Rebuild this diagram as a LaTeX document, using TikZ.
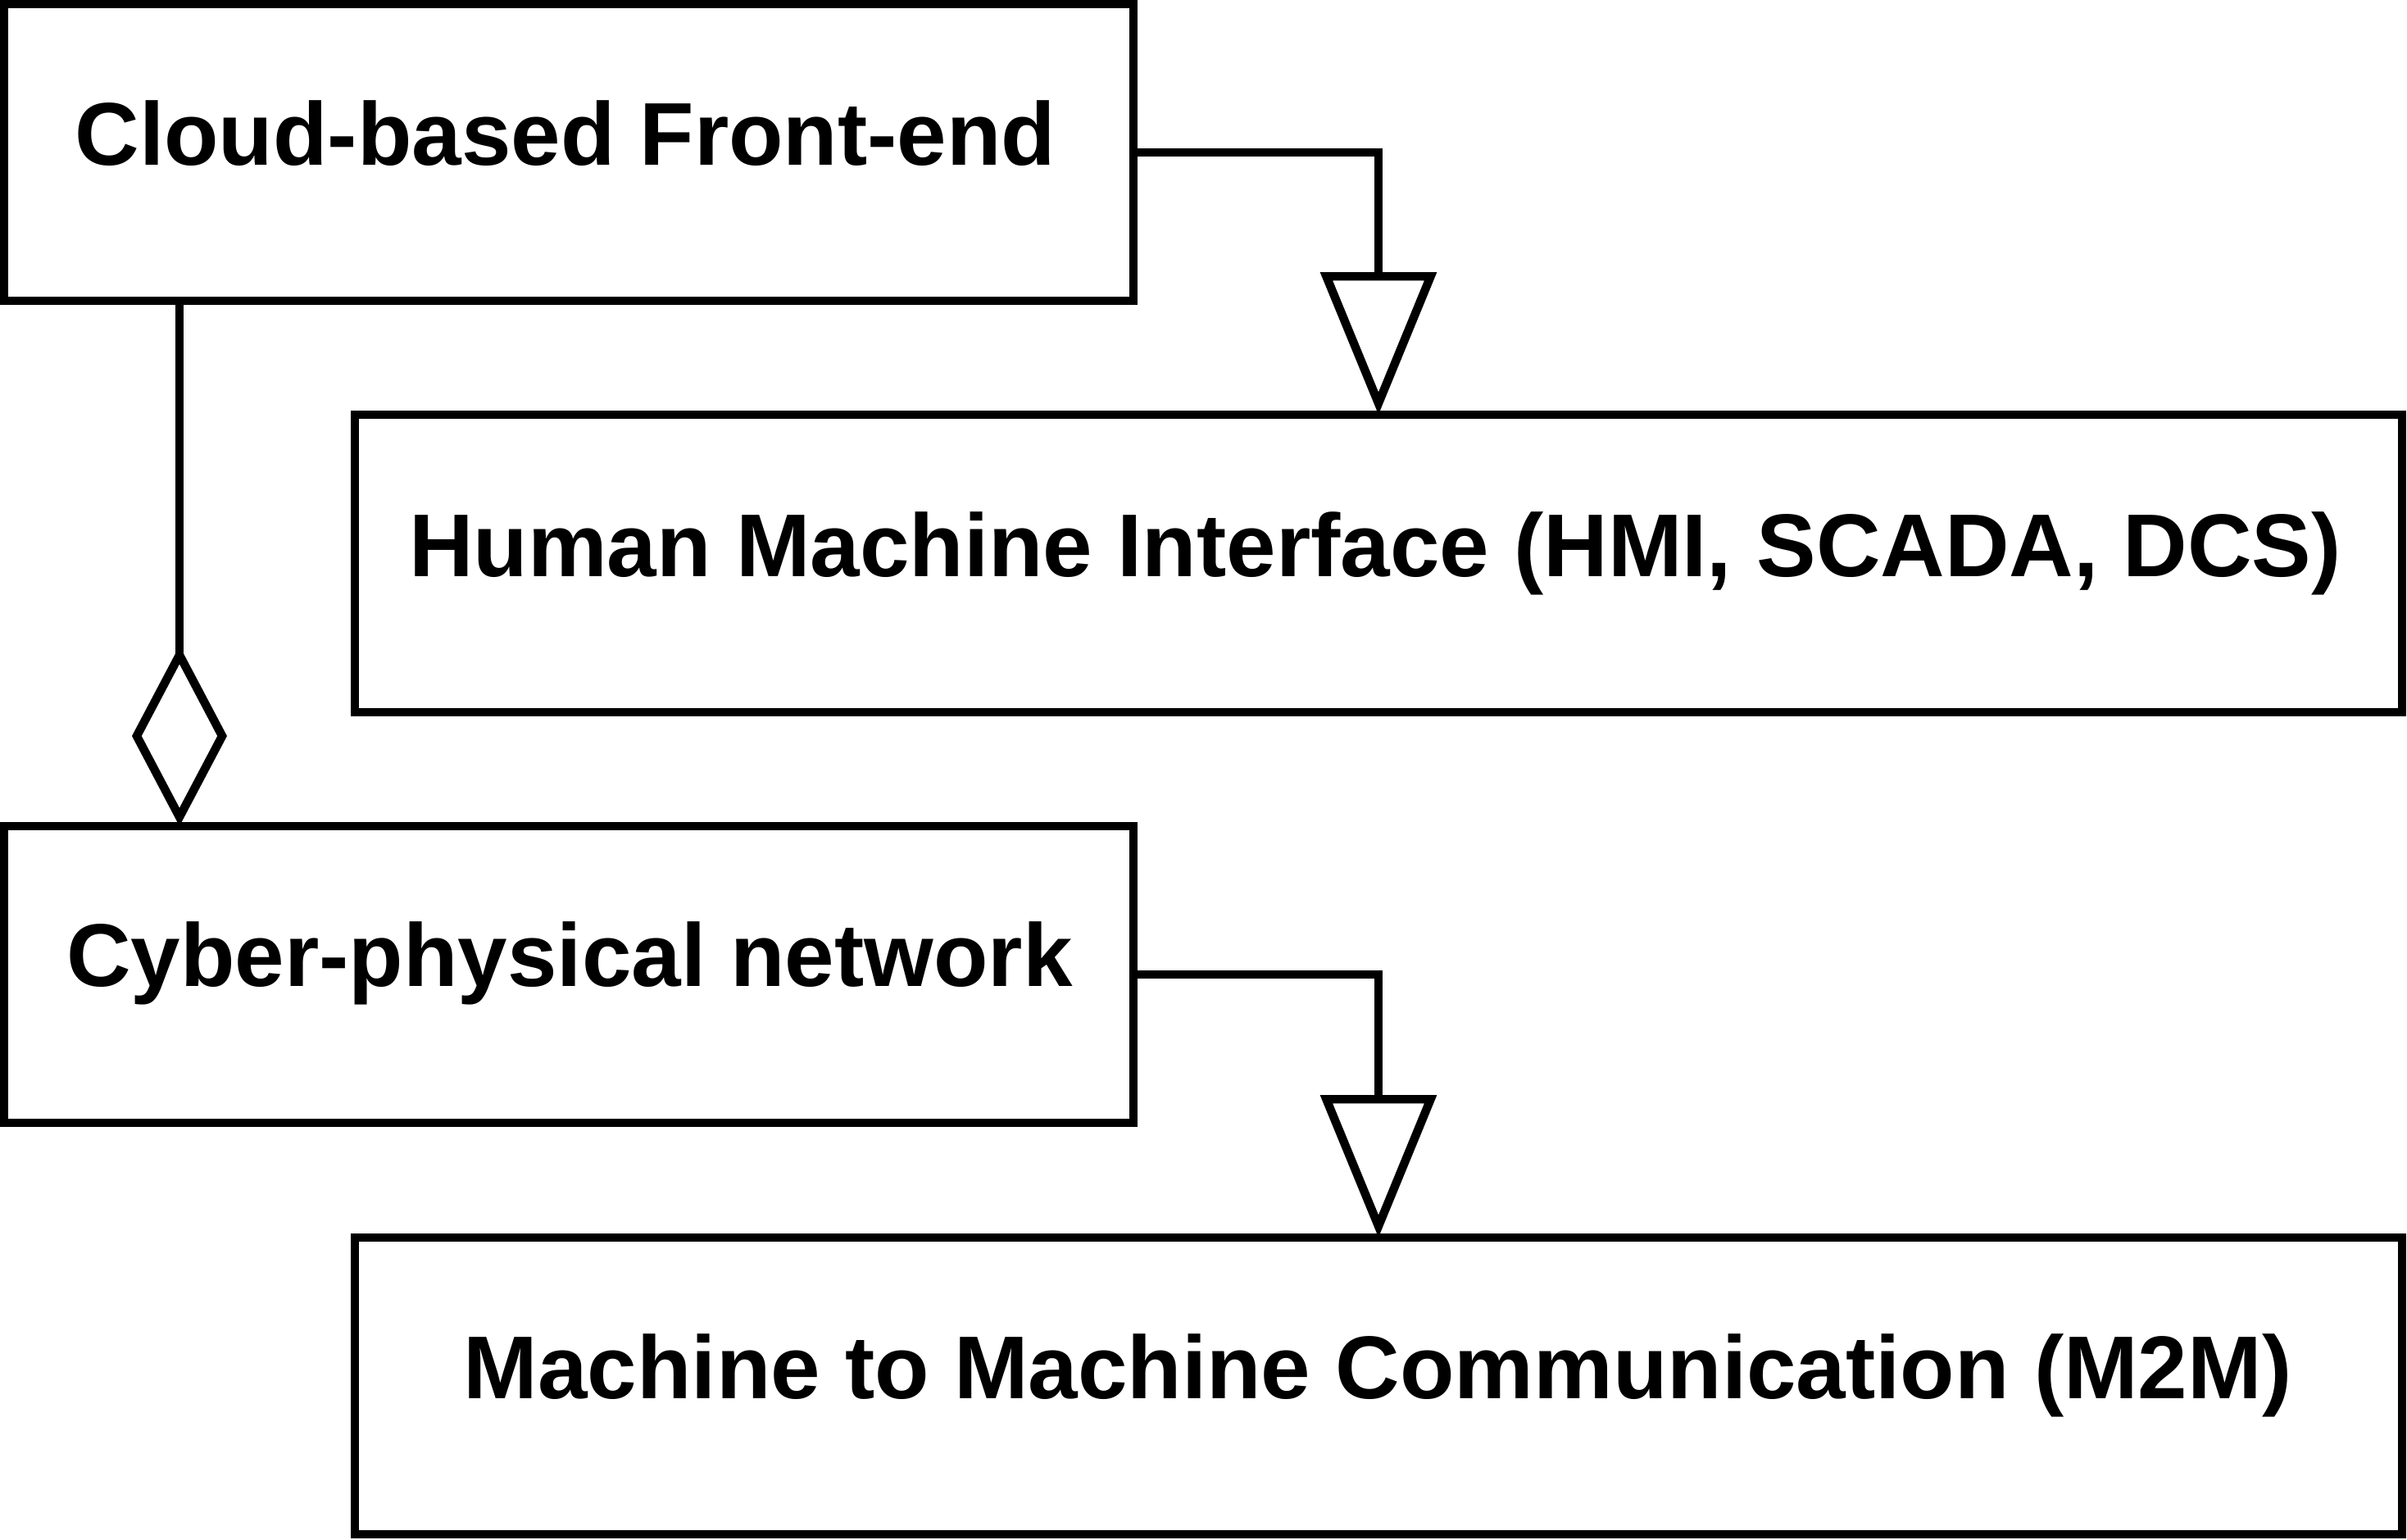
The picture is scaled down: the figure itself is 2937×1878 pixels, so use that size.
\documentclass[tikz,border=0pt]{standalone}
\usepackage{fontspec}
\setmainfont{Liberation Sans}
\usetikzlibrary{arrows.meta}
\begin{document}
\begin{tikzpicture}[x=0.25pt,y=-0.25pt,
  box/.style={draw=black,line width=2.6pt,rectangle,inner sep=0pt,outer sep=0pt,fill=white},
  lbl/.style={anchor=base,inner sep=0pt,font=\fontsize{27.2pt}{32pt}\selectfont\bfseries},
  conn/.style={draw=black,line width=2.6pt,line join=miter},
  gen/.style={-{Triangle[open,length=43.5pt,width=35pt,line join=miter]}},
  agg/.style={-{Diamond[open,length=55pt,width=29pt,line join=miter]}}]
\useasboundingbox (0,0) rectangle (2937,1878);
\node[box,minimum width=344.5pt,minimum height=90.5pt] (b1) at (694,186) {};
\node[box,minimum width=624.5pt,minimum height=90.75pt] (b2) at (1682,687.5) {};
\node[box,minimum width=344.5pt,minimum height=90.5pt] (b3) at (694,1189) {};
\node[box,minimum width=624.5pt,minimum height=90.5pt] (b4) at (1682,1691) {};
\node[lbl] (t1) at (690,201) {Cloud-based Front-end};
\node[lbl] (t2) at (1678,703) {Human Machine Interface (HMI, SCADA, DCS)};
\node[lbl] (t3) at (695,1203) {Cyber-physical network};
\node[lbl] (t4) at (1681,1706) {Machine to Machine Communication (M2M)};
\draw[conn,gen] (b1.east) -| (b2.north);
\draw[conn,gen] (b3.east) -| (b4.north);
\draw[conn,agg] ([xshift=53.5pt]b1.south west) -- ([xshift=53.5pt]b3.north west);
\end{tikzpicture}
\end{document}
